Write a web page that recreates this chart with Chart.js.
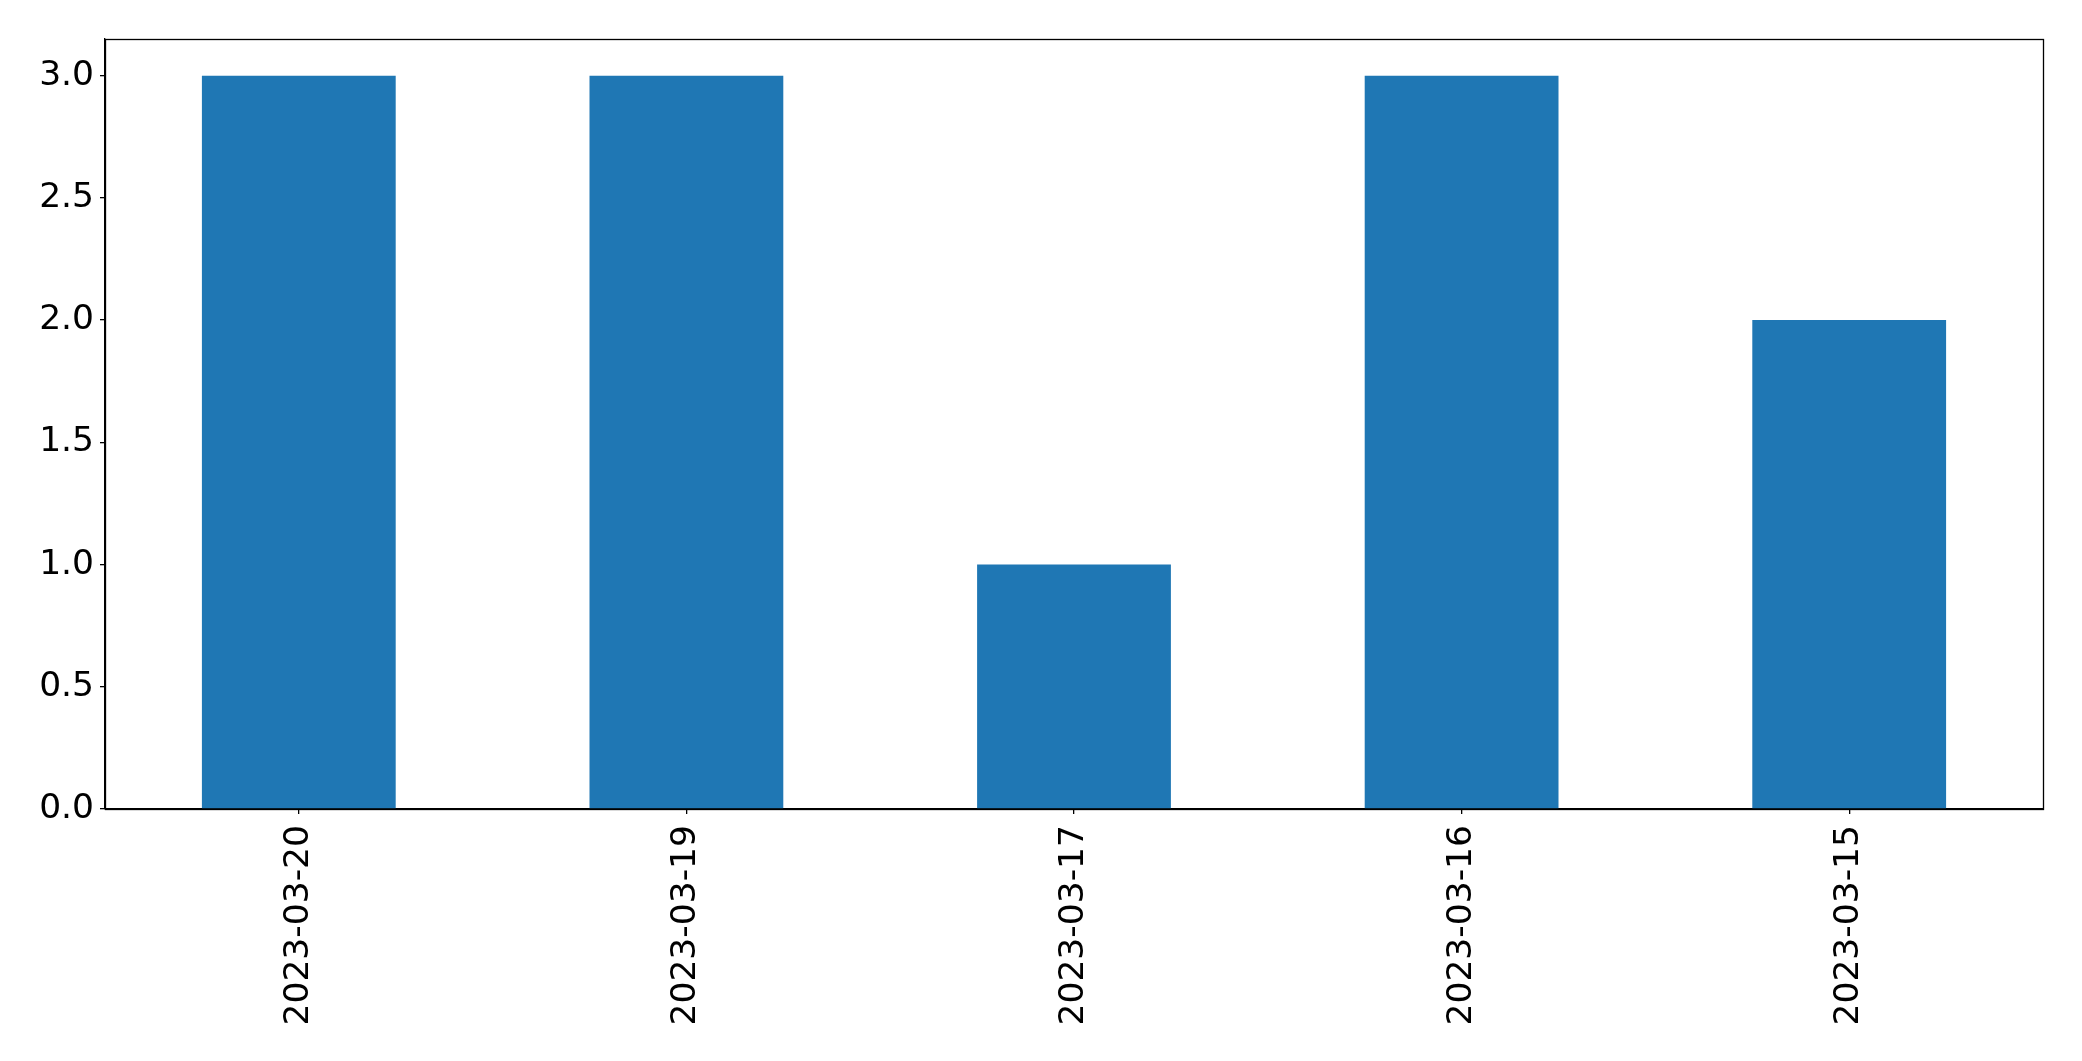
<!DOCTYPE html>
<html>
<head>
<meta charset="utf-8">
<script src="https://cdn.jsdelivr.net/npm/chart.js@4/dist/chart.umd.min.js"></script>
<style>
  html, body { margin: 0; padding: 0; background: #fff; }
  canvas { display: block; }
</style>
</head>
<body>
<canvas id="barChart" width="2082" height="1061"></canvas>
<script>
const dates = ['2023-03-20', '2023-03-19', '2023-03-17', '2023-03-16', '2023-03-15'];
const counts = [3, 3, 1, 3, 2];
const yTicks = [0, 0.5, 1, 1.5, 2, 2.5, 3];

/* matplotlib-style box round the plot */
const frame = {
  id: 'frame',
  afterDraw(chart) {
    const a = chart.chartArea, c = chart.ctx;
    c.save();
    c.strokeStyle = '#000';
    c.lineWidth = 1.3;
    c.strokeRect(Math.round(a.left) + 0.5, Math.round(a.top) + 0.5, Math.round(a.right - a.left), Math.round(a.bottom - a.top));
    c.restore();
  }
};

const ctx = document.getElementById('barChart').getContext('2d');
new Chart(ctx, {
  type: 'bar',
  data: {
    labels: dates,
    datasets: [{ data: counts, backgroundColor: '#1f77b4', borderWidth: 0, barPercentage: 0.5, categoryPercentage: 1.0 }]
  },
  options: {
    responsive: false,
    animation: false,
    devicePixelRatio: 1,
    layout: { padding: { top: 39, right: 39, left: 0, bottom: 0 } },
    plugins: { legend: { display: false }, tooltip: { enabled: false } },
    scales: {
      x: {
        grid: { display: true, offset: false, drawOnChartArea: false, drawTicks: true, tickLength: 5, color: '#000', lineWidth: 1.3 },
        border: { display: true, color: '#000', width: 1.3 },
        ticks: {
          color: '#000', padding: 11, minRotation: 90, maxRotation: 90, autoSkip: false,
          font: { family: 'DejaVu Sans', size: 34.5 }
        },
        afterFit(scale) { scale.height = 1061 - 809; }
      },
      y: {
        min: 0,
        max: 3.15,
        grid: { display: true, drawOnChartArea: false, drawTicks: true, tickLength: 5, color: '#000', lineWidth: 1.3 },
        border: { display: true, color: '#000', width: 1.3 },
        afterBuildTicks(scale) { scale.ticks = yTicks.map(v => ({ value: v })); },
        ticks: {
          color: '#000', padding: 6,
          font: { family: 'DejaVu Sans', size: 34.5 },
          callback: v => Number(v).toFixed(1)
        },
        afterFit(scale) { scale.width = 105; }
      }
    }
  },
  plugins: [frame]
});
</script>
</body>
</html>
